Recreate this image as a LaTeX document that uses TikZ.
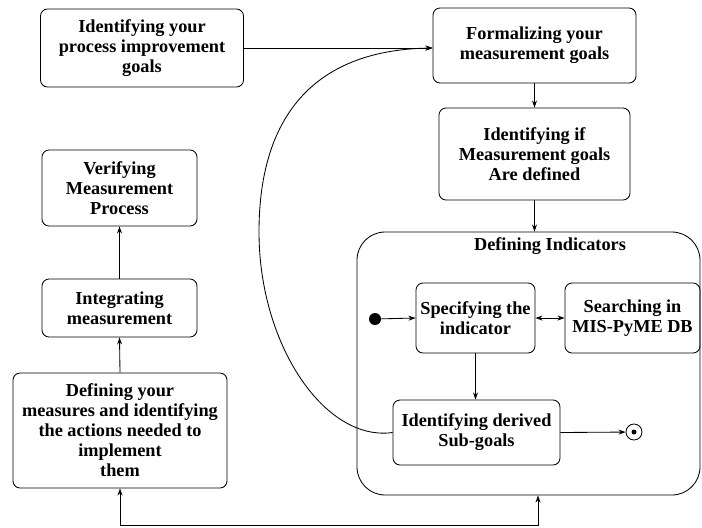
\documentclass[tikz,border=0pt]{standalone}
\usepackage{fontspec}
\setmainfont{Liberation Serif}
\usetikzlibrary{arrows.meta}

\tikzset{
  stepbox/.style={draw, rounded corners=5pt, align=center, inner sep=1pt,
    font=\fontsize{13}{14.2}\selectfont\bfseries},
  link/.style={-{Stealth[length=5pt,width=3.5pt]}, line width=0.6pt}
}

\begin{document}
\begin{tikzpicture}[x=0.025cm, y=-0.025cm, line width=0.6pt]
\useasboundingbox (0,0) rectangle (702,527);

% Left column
\node[stepbox, minimum width=203*0.025cm, minimum height=78*0.025cm] (goals) at (142,48) {Identifying your\\process improvement\\goals};
\node[stepbox, minimum width=155*0.025cm, minimum height=76*0.025cm] (verify) at (119.5,188) {Verifying\\Measurement\\Process};
\node[stepbox, minimum width=155*0.025cm, minimum height=58*0.025cm] (integ) at (119.5,308) {Integrating\\measurement};
\node[stepbox, minimum width=214*0.025cm, minimum height=115*0.025cm] (measures) at (120,430.5) {Defining your\\measures and identifying\\the actions needed to\\implement\\them};

% Right column
\node[stepbox, minimum width=203*0.025cm, minimum height=75*0.025cm] (formal) at (534.5,45.5) {Formalizing your\\measurement goals};
\node[stepbox, minimum width=191*0.025cm, minimum height=92*0.025cm] (ident) at (534.5,154) {Identifying if\\Measurement goals\\Are defined};

% Defining Indicators
\node[draw, rounded corners=20pt, minimum width=343*0.025cm, minimum height=263*0.025cm] (indic) at (528.5,363.5) {};
\node[font=\fontsize{13}{14.2}\selectfont\bfseries] (indtitle) at (550,246) {Defining Indicators};
\node[stepbox, minimum width=119*0.025cm, minimum height=70*0.025cm] (spec) at (475.5,318) {Specifying the\\indicator};
\node[stepbox, minimum width=135*0.025cm, minimum height=70*0.025cm] (search) at (632.5,318) {Searching in\\MIS-PyME DB};
\node[stepbox, minimum width=167*0.025cm, minimum height=65*0.025cm] (derived) at (476.5,432.5) {Identifying derived\\Sub-goals};
\node[circle, fill, inner sep=0pt, minimum size=12*0.025cm] (start) at (375,319) {};
\node[circle, draw, inner sep=0pt, minimum size=16*0.025cm] (stop) at (634,432) {};
\fill (stop) circle (2.5);

% Connectors
\draw[link] (goals.east) -- (goals.east -| formal.west);
\draw[link] (formal.south) -- (ident.north);
\draw[link] (ident.south) -- (ident.south |- indic.north);
\draw[link] (start) -- (spec.west);
\draw[link, {Stealth[length=5pt,width=3.5pt]}-{Stealth[length=5pt,width=3.5pt]}] (spec.east) -- (search.west);
\draw[link] (spec.south) -- (spec.south |- derived.north);
\draw[link] (derived.east) -- (stop);
\coordinate (bend) at (259,232);
\draw[link] (derived.west) .. controls (325,442) and (259,345) .. (bend)
  .. controls (259,110) and (320,50) .. (goals.east -| formal.west);
\draw[link] (measures.north) -- (integ.south);
\draw[link] (integ.north) -- (verify.south);
\coordinate (low) at (538,525);
\draw[link, {Stealth[length=5pt,width=3.5pt]}-{Stealth[length=5pt,width=3.5pt]}] (measures.south) |- (low) -- (indic.south -| low);
\end{tikzpicture}
\end{document}
